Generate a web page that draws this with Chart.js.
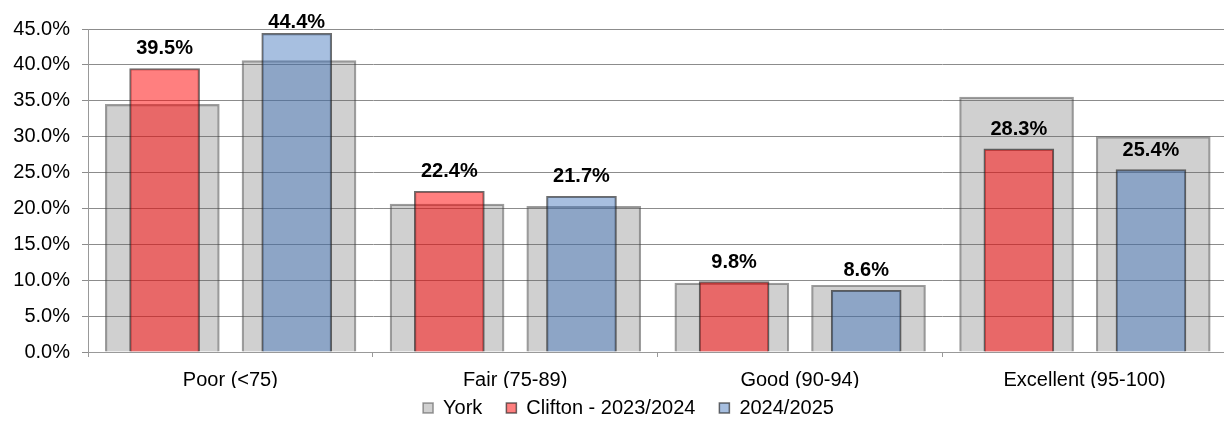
<!DOCTYPE html>
<html>
<head>
<meta charset="utf-8">
<script src="https://cdn.jsdelivr.net/npm/chart.js@4"></script>
<style>
  body { margin: 0; overflow: hidden; background: #fff; }
  canvas { display: block; }
</style>
</head>
<body>
<canvas id="score-chart" width="1256" height="428"></canvas>
<script>
// Categories and values
const categories = ['Poor (<75)', 'Fair (75-89)', 'Good (90-94)', 'Excellent (95-100)'];
const seriesNames = ['York', 'Clifton - 2023/2024', '2024/2025'];
// York: two values per category (2023/2024, 2024/2025)
const yorkValues = [34.5, 40.6, 20.6, 20.3, 9.6, 9.3, 35.5, 30.0];
const clifton2324 = [39.5, 22.4, 9.8, 28.3];
const clifton2425 = [44.4, 21.7, 8.6, 25.4];
const yTicks = { min: 0, max: 45, step: 5 };

const FONT = '"Liberation Sans", Arial, sans-serif';

// where the bars sit inside a category (fraction of its width)
const yorkOffsets = [0.261, 0.741];
const cliftonOffsets = [0.269, 0.733];

const yorkPoints = yorkValues.map((v, k) => ({ x: Math.floor(k / 2) + yorkOffsets[k % 2], y: v }));
const redPoints = clifton2324.map((v, i) => ({ x: i + cliftonOffsets[0], y: v }));
const bluePoints = clifton2425.map((v, i) => ({ x: i + cliftonOffsets[1], y: v }));

// Draws the bold value labels over the coloured bars
const valueLabels = {
    id: 'valueLabels',
    afterDatasetsDraw(chart) {
        const ctx = chart.ctx;
        ctx.save();
        ctx.font = 'bold 20px ' + FONT;
        ctx.fillStyle = '#000';
        ctx.textAlign = 'center';
        ctx.textBaseline = 'middle';
        [1, 2].forEach(di => {
            const meta = chart.getDatasetMeta(di);
            const data = chart.data.datasets[di].data;
            meta.data.forEach((bar, j) => {
                const y = Math.max(bar.y - 19.5, 22);
                ctx.fillText(data[j].y.toFixed(1) + '%', bar.x, y);
            });
        });
        ctx.restore();
    }
};

// The legend needs wide gaps between items but must stay close to the axis labels
const legendShift = {
    id: 'legendShift',
    afterLayout(chart) {
        const lg = chart.legend;
        lg.top -= 14;
        lg.bottom -= 14;
        lg.left += 15;
        lg.right += 15;
    }
};

const ctx = document.getElementById('score-chart').getContext('2d');
new Chart(ctx, {
    type: 'bar',
    data: {
        datasets: [{
            label: seriesNames[0],
            data: yorkPoints,
            backgroundColor: 'rgba(100,100,100,0.3)',
            borderColor: 'rgba(60,60,60,0.5)',
            borderWidth: 1.5,
            barThickness: 114,
            grouped: false,
            order: 2
        }, {
            label: seriesNames[1],
            data: redPoints,
            backgroundColor: 'rgba(255,0,0,0.5)',
            borderColor: 'rgba(30,30,30,0.65)',
            borderWidth: 1.5,
            barThickness: 70,
            grouped: false,
            order: 1
        }, {
            label: seriesNames[2],
            data: bluePoints,
            backgroundColor: 'rgba(60,113,187,0.45)',
            borderColor: 'rgba(30,30,30,0.65)',
            borderWidth: 1.5,
            barThickness: 70,
            grouped: false,
            order: 1
        }]
    },
    options: {
        responsive: false,
        animation: false,
        layout: { padding: { top: 29, right: 29, left: 0, bottom: -14 } },
        plugins: {
            tooltip: { enabled: false },
            legend: {
                position: 'bottom',
                labels: {
                    boxWidth: 10,
                    boxHeight: 10,
                    padding: 24,
                    color: '#000',
                    font: { size: 20, family: FONT },
                    sort: (a, b) => a.datasetIndex - b.datasetIndex
                }
            }
        },
        scales: {
            x: {
                type: 'linear',
                display: false,
                min: 0,
                max: categories.length,
                offset: false
            },
            x2: {
                type: 'category',
                labels: categories,
                position: 'bottom',
                offset: true,
                grid: { offset: true, drawOnChartArea: false, tickLength: 5, color: '#999' },
                border: { color: '#999' },
                ticks: {
                    color: '#000',
                    padding: 11,
                    maxRotation: 0,
                    autoSkip: false,
                    font: { size: 20, family: FONT }
                },
                afterFit: s => { s.height = 36; }
            },
            y: {
                min: yTicks.min,
                max: yTicks.max,
                ticks: {
                    stepSize: yTicks.step,
                    color: '#000',
                    padding: 12,
                    font: { size: 20, family: FONT },
                    callback: v => v.toFixed(1) + '%'
                },
                grid: { color: '#8c8c8c', tickLength: 6 },
                border: { color: '#999' },
                afterFit: s => { s.width = 88; }
            }
        }
    },
    plugins: [valueLabels, legendShift]
});
</script>
</body>
</html>
